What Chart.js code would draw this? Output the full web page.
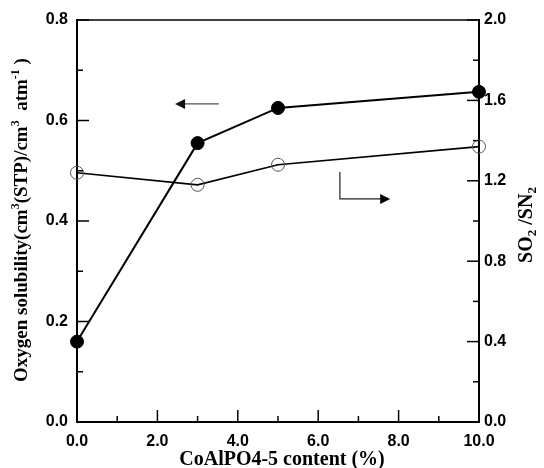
<!DOCTYPE html>
<html><head><meta charset="utf-8">
<script src="https://cdn.jsdelivr.net/npm/chart.js@4.4.0/dist/chart.umd.min.js"></script>
<style>html,body{margin:0;padding:0;background:#fff}#wrap{width:544px;height:468px}</style>
</head><body><div id="wrap"><canvas id="c" width="544" height="468"></canvas></div>
<script>
// ---- data ----
const content = [0, 3, 5, 10];                       // CoAlPO4-5 content (%)
const oxygenSolubility = [0.16, 0.555, 0.625, 0.657]; // left axis
const selectivity = [1.24, 1.18, 1.28, 1.37];         // SO2/SN2, right axis
const xLabelValues = [0, 2, 4, 6, 8, 10];
const yLeftLabelValues = [0, 0.2, 0.4, 0.6, 0.8];
const yRightLabelValues = [0, 0.4, 0.8, 1.2, 1.6, 2.0];
// annotation arrows (data units)
const leftArrow = {x1: 3.53, x2: 2.44, y: 0.633};
const rightArrow = {x: 6.54, y1: 0.4975, y2: 0.444, x2: 7.79};

const has = (arr, v) => arr.some(a => Math.abs(a - v) < 1e-6);

const tickFont = {family: "'Liberation Sans', Arial, sans-serif", size: 16, weight: 'bold'};
const serif = "'Liberation Serif', 'Times New Roman', serif";

const decor = {
  id: 'decor',
  afterDraw(chart) {
    const ctx = chart.ctx, a = chart.chartArea;
    const sx = chart.scales.x, sl = chart.scales.y, sr = chart.scales.y1;
    ctx.save();
    ctx.strokeStyle = '#000';
    // top frame
    ctx.lineWidth = 1.5;
    ctx.beginPath(); ctx.moveTo(a.left, a.top); ctx.lineTo(a.right, a.top); ctx.stroke();
    // inward ticks
    ctx.lineWidth = 1.5;
    sx.ticks.forEach(t => {
      const p = sx.getPixelForValue(t.value);
      const L = has(xLabelValues, t.value) ? 12 : 6;
      ctx.beginPath(); ctx.moveTo(p, a.bottom); ctx.lineTo(p, a.bottom - L); ctx.stroke();
    });
    sl.ticks.forEach(t => {
      const p = sl.getPixelForValue(t.value);
      const L = has(yLeftLabelValues, t.value) ? 12 : 6;
      ctx.beginPath(); ctx.moveTo(a.left, p); ctx.lineTo(a.left + L, p); ctx.stroke();
    });
    sr.ticks.forEach(t => {
      const p = sr.getPixelForValue(t.value);
      const L = has(yRightLabelValues, t.value) ? 12 : 6;
      ctx.beginPath(); ctx.moveTo(a.right, p); ctx.lineTo(a.right - L, p); ctx.stroke();
    });
    // left arrow (grey)
    ctx.strokeStyle = '#555'; ctx.fillStyle = '#111'; ctx.lineWidth = 1.2;
    let x1 = sx.getPixelForValue(leftArrow.x1), x2 = sx.getPixelForValue(leftArrow.x2), y = sl.getPixelForValue(leftArrow.y);
    ctx.beginPath(); ctx.moveTo(x1, y); ctx.lineTo(x2 + 8, y); ctx.stroke();
    ctx.beginPath(); ctx.moveTo(x2, y); ctx.lineTo(x2 + 10, y - 5); ctx.lineTo(x2 + 10, y + 5); ctx.closePath(); ctx.fill();
    // L-shaped right arrow
    ctx.strokeStyle = '#222'; ctx.fillStyle = '#000'; ctx.lineWidth = 1.2;
    const vx = sx.getPixelForValue(rightArrow.x), vy1 = sl.getPixelForValue(rightArrow.y1), vy2 = sl.getPixelForValue(rightArrow.y2), hx = sx.getPixelForValue(rightArrow.x2);
    ctx.beginPath(); ctx.moveTo(vx, vy1); ctx.lineTo(vx, vy2); ctx.lineTo(hx - 8, vy2); ctx.stroke();
    ctx.beginPath(); ctx.moveTo(hx, vy2); ctx.lineTo(hx - 10, vy2 - 5); ctx.lineTo(hx - 10, vy2 + 5); ctx.closePath(); ctx.fill();

    // titles
    ctx.fillStyle = '#000';
    ctx.textBaseline = 'alphabetic';
    function drawRich(parts, cx, cy, size) {
      const small = Math.round(size * 0.65);
      const F = k => `bold ${k === 'n' ? size : small}px ${serif}`;
      let w = 0;
      parts.forEach(p => { ctx.font = F(p[1]); w += ctx.measureText(p[0]).width; });
      let x = cx - w / 2;
      parts.forEach(p => {
        ctx.font = F(p[1]);
        const dy = p[1] === 'sup' ? -size * 0.4 : (p[1] === 'sub' ? size * 0.2 : 0);
        ctx.textAlign = 'left';
        ctx.fillText(p[0], x, cy + dy);
        x += ctx.measureText(p[0]).width;
      });
    }
    // x title
    drawRich([['CoAlPO4-5 content (%)', 'n']], (a.left + a.right) / 2 + 4, 465, 20);
    // left title
    ctx.save(); ctx.translate(27, 220); ctx.rotate(-Math.PI / 2);
    drawRich([['Oxygen solubility(cm', 'n'], ['3', 'sup'], ['(STP)/cm', 'n'], ['3', 'sup'], ['  atm', 'n'], ['-1', 'sup'], [' )', 'n']], 0, 0, 19);
    ctx.restore();
    // right title
    ctx.save(); ctx.translate(532, 225); ctx.rotate(-Math.PI / 2);
    drawRich([['SO', 'n'], ['2', 'sub'], [' /SN', 'n'], ['2', 'sub']], 0, 0, 20);
    ctx.restore();
    ctx.restore();
  }
};

new Chart(document.getElementById('c'), {
  type: 'line',
  data: {
    datasets: [
      {
        label: 'Oxygen solubility',
        data: content.map((x, i) => ({x, y: oxygenSolubility[i]})),
        yAxisID: 'y',
        borderColor: '#000', borderWidth: 2,
        pointRadius: 6.5, pointBackgroundColor: '#000', pointBorderColor: '#000', pointBorderWidth: 1,
        tension: 0, clip: false
      },
      {
        label: 'SO2/SN2',
        data: content.map((x, i) => ({x, y: selectivity[i]})),
        yAxisID: 'y1',
        borderColor: '#000', borderWidth: 1.6,
        pointRadius: 6.5, pointBackgroundColor: 'rgba(0,0,0,0)', pointBorderColor: '#555', pointBorderWidth: 1,
        tension: 0, clip: false
      }
    ]
  },
  options: {
    responsive: false, animation: false, devicePixelRatio: 1,
    layout: {padding: {top: 20, left: 0, right: 0, bottom: 0}},
    plugins: {legend: {display: false}, tooltip: {enabled: false}},
    scales: {
      x: {
        type: 'linear', min: 0, max: 10, position: 'bottom',
        grid: {display: false, drawTicks: false},
        border: {display: true, color: '#000', width: 2},
        ticks: {stepSize: 1, autoSkip: false, maxRotation: 0, color: '#000', font: tickFont, padding: 10,
          callback: v => has(xLabelValues, v) ? v.toFixed(1) : ''},
        afterFit: s => { s.height = 46; }
      },
      y: {
        type: 'linear', min: 0, max: 0.8, position: 'left',
        grid: {display: false, drawTicks: false},
        border: {display: true, color: '#000', width: 2},
        ticks: {stepSize: 0.1, autoSkip: false, color: '#000', font: tickFont, padding: 9,
          callback: v => has(yLeftLabelValues, v) ? v.toFixed(1) : ''},
        afterFit: s => { s.width = 77; }
      },
      y1: {
        type: 'linear', min: 0, max: 2.0, position: 'right',
        grid: {display: false, drawTicks: false},
        border: {display: true, color: '#000', width: 2},
        ticks: {stepSize: 0.2, autoSkip: false, color: '#000', font: tickFont, padding: 5,
          callback: v => has(yRightLabelValues, v) ? v.toFixed(1) : ''},
        afterFit: s => { s.width = 65; }
      }
    }
  },
  plugins: [decor]
});
</script>
</body></html>
